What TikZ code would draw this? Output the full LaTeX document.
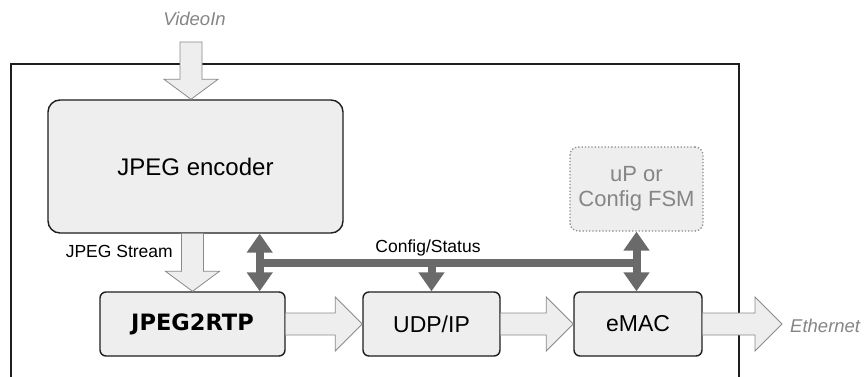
\documentclass[tikz,border=0pt]{standalone}
\usepackage{fontspec}
\setmainfont{Liberation Sans}
\newfontfamily\boldsans{DejaVu Sans}
\usetikzlibrary{calc,arrows.meta}
\definecolor{boxfill}{HTML}{EEEEEE}
\definecolor{boxline}{HTML}{1E1E1E}
\definecolor{arrline}{HTML}{8A8A8A}
\definecolor{busgray}{HTML}{6A6A6A}
\definecolor{txtgray}{HTML}{858585}
\newcommand\hblock[2]{\filldraw[barrow] ($(#1.east)+(0,-11)$) -- ($(#2)+(-27,-11)$) -- ($(#2)+(-27,-27)$) -- (#2) -- ($(#2)+(-27,27)$) -- ($(#2)+(-27,11)$) -- ($(#1.east)+(0,11)$);}
\begin{document}
\begin{tikzpicture}[x=1pt,y=-1pt,
  blk/.style={draw=boxline, fill=boxfill, line width=1.4pt, rounded corners=6pt, inner sep=0pt, align=center, font=\fontsize{23}{25}\selectfont},
  barrow/.style={draw=arrline, fill=boxfill, line width=0.8pt, line join=miter},
  bus/.style={draw=busgray, line width=8pt},
  tipboth/.style={{Triangle[width=25pt,length=19pt]}-{Triangle[width=25pt,length=19pt]}},
  tipend/.style={-{Triangle[width=25pt,length=19pt]}},
  lbl/.style={inner sep=0pt, font=\fontsize{17.5}{20}\selectfont},
  extl/.style={inner sep=0pt, text=txtgray, font=\fontsize{18.5}{20}\selectfont\itshape}
]
\useasboundingbox (0,0) rectangle (864,377);
\clip (0,0) rectangle (864,377);
% outer frame
\draw[line width=1.4pt, boxline] (11,400) |- (739,64) -- (739,400);
% boxes
\node[blk, rounded corners=12pt, minimum width=295pt, minimum height=133pt, font=\fontsize{24}{26}\selectfont] (enc) at (195.5,166.5) {JPEG encoder};
\node[blk, minimum width=185pt, minimum height=64pt, font=\fontsize{22.5}{25}\selectfont\boldsans\bfseries] (rtp) at (192.5,324) {JPEG2RTP};
\node[blk, minimum width=137pt, minimum height=64pt] (udp) at (431.5,324) {UDP/IP};
\node[blk, minimum width=128pt, minimum height=64pt] (emac) at (638,324) {eMAC};
\node[blk, draw=arrline, line width=1.3pt, dotted, rounded corners=8pt, text=txtgray, minimum width=133pt, minimum height=84pt, font=\fontsize{22}{25}\selectfont] (fsm) at (636.5,189) {uP or\\Config FSM};
% external labels
\coordinate (vin) at (191,42);
\node[extl, anchor=base] (vlabel) at (194.5,26) {VideoIn};
\coordinate (eth) at (782,324);
\node[extl, anchor=base west] (elabel) at (790,332) {Ethernet};
% video in arrow
\filldraw[barrow] ($(vin)+(-11,0)$) -- ($(vin)+(11,0)$) -- ($(vin |- enc.north)+(11,-20)$) -- ($(vin |- enc.north)+(27,-20)$) -- (vin |- enc.north) -- ($(vin |- enc.north)+(-27,-20)$) -- ($(vin |- enc.north)+(-11,-20)$) -- cycle;
% JPEG stream arrow
\coordinate (s1) at (enc.south -| rtp.north);
\filldraw[barrow] ($(s1)+(-11,0)$) -- ($(rtp.north)+(-11,-20)$) -- ($(rtp.north)+(-27,-20)$) -- (rtp.north) -- ($(rtp.north)+(27,-20)$) -- ($(rtp.north)+(11,-20)$) -- ($(s1)+(11,0)$);
\node[lbl, anchor=base east] (jslabel) at (173,257) {JPEG Stream};
% data path arrows
\hblock{rtp}{udp.west}
\hblock{udp}{emac.west}
\hblock{emac}{eth}
% config/status bus
\coordinate (b1) at ($(rtp.north east)+(-26,0)$);
\coordinate (t1) at (enc.south -| b1);
\coordinate (busL) at ($(t1)!0.5!(b1)$);
\coordinate (busR) at (fsm.south |- busL);
\draw[bus] (busL) -- (busR);
\draw[bus, tipboth] (t1) -- (b1);
\draw[bus, tipend] (udp.north |- busL) -- (udp.north);
\draw[bus, tipboth] (fsm.south) -- (fsm.south |- emac.north);
\node[lbl, anchor=base] (cslabel) at (428,252) {Config/Status};
\end{tikzpicture}
\end{document}
